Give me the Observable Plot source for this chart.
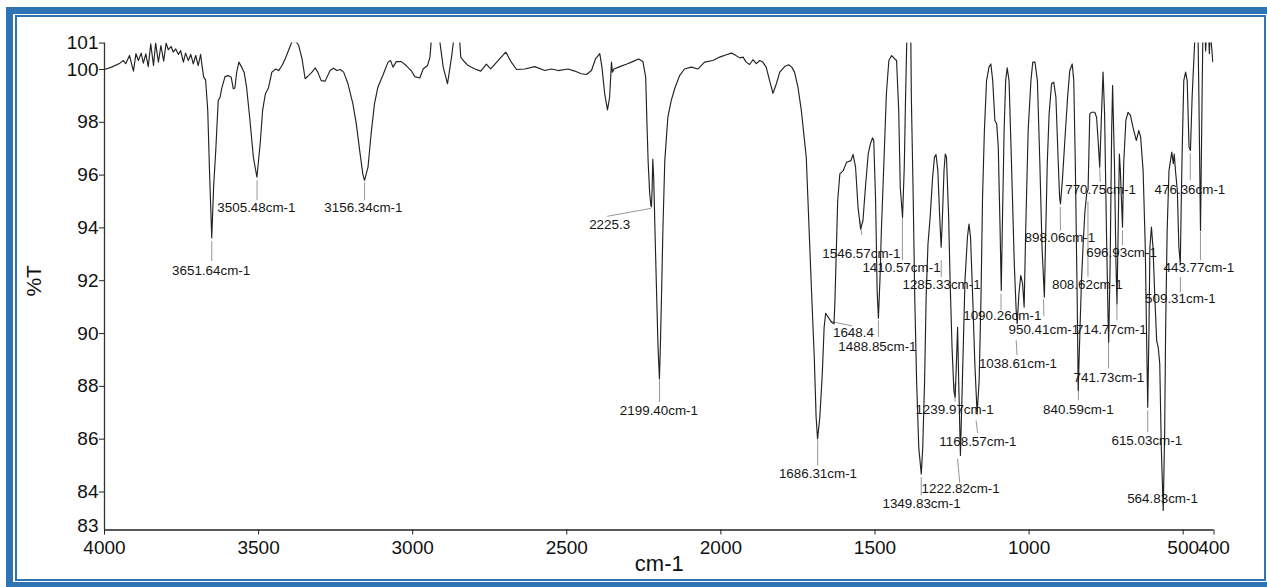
<!DOCTYPE html>
<html>
<head>
<meta charset="utf-8">
<script src="https://cdn.jsdelivr.net/npm/d3@7"></script>
<script src="https://cdn.jsdelivr.net/npm/@observablehq/plot@0.6"></script>
<style>
html, body { margin: 0; padding: 0; background: #fff; }
#wrap { position: relative; width: 1267px; height: 587px; overflow: hidden; background: #fff; }
#outer { position: absolute; left: 6px; top: 7px; width: 1270px; height: 582px; border: 7px solid #2e74b5; box-sizing: border-box; }
#inner { position: absolute; left: 15px; top: 15px; width: 1251px; height: 566px; border: 2px solid #2e74b5; box-sizing: border-box; }
#chart { position: absolute; left: 0; top: 0; }
</style>
</head>
<body>
<div id="wrap">
  <div id="outer"></div>
  <div id="inner"></div>
  <div id="chart"></div>
</div>
<script>
// Spectrum: wavenumber (cm-1) and transmittance (%T)
const wavenumber = [
  4000,3977,3950,3939,3931,3919,3906,3898,3890,3881,3874,3866,3858,3850,3841,3834,3825,3817,3808,3800,
  3793,3784,3777,3769,3760,3753,3744,3737,3728,3720,3712,3704,3696,3688,3683,3678,3672,3665,3659,3652,
  3646,3639,3631,3625,3620,3609,3598,3589,3582,3577,3571,3564,3555,3547,3539,3528,3517,3505.5,3495,3487,
  3478,3468,3457,3444,3435,3424,3414,3403,3392,3378,3370,3359,3349,3338,3327,3316,3308,3297,3284,3268,
  3257,3246,3235,3224,3210,3194,3183,3172,3162,3156.3,3145,3135,3124,3113,3097,3080,3072,3064,3053,3037,
  3021,3005,2993,2977,2966,2952,2944,2937,2917,2901,2887,2874,2863,2850,2844,2836,2820,2798,2779,2761,
  2747,2723,2698,2680,2663,2636,2604,2571,2550,2528,2496,2474,2453,2436,2420,2407,2393,2386,2377,2368,
  2361,2355,2352,2347,2328,2307,2290,2267,2253,2244,2240,2236,2231,2227,2225.3,2223,2221,2218,2213,2208,
  2204,2199.4,2196,2193,2188,2182,2172,2161,2150,2134,2118,2096,2074,2053,2026,2004,1982,1966,1955,1939,
  1928,1918,1907,1896,1885,1874,1864,1853,1842,1831,1820,1809,1793,1780,1770,1761,1750,1739,1723,1716,
  1706,1697,1691,1686.3,1679,1671,1665,1660,1652,1641,1633,1630,1627,1621,1614,1603,1592,1578,1571,1563,
  1555,1546.6,1539,1531,1522,1515,1508,1504,1498,1493,1488.9,1484,1479,1471,1463,1455,1446,1436,1430,1423,
  1418,1410.6,1405,1401,1396,1384,1382,1376,1371,1365,1358,1349.8,1345,1339,1334,1328,1321,1313,1307,1302,
  1296,1290,1285.3,1282,1276,1272,1268,1261,1256,1250,1244,1240,1236,1232,1228,1222.8,1215,1208,1200,1195,
  1190,1183,1176,1168.6,1162,1156,1151,1145,1138,1130,1124,1118,1111,1105,1100,1094,1090.3,1087,1081,1076,
  1071,1065,1057,1048,1042,1038.6,1033,1027,1021,1016,1011,1003,994,988,981,973,965,958,950.4,947,
  941,935,927,920,913,906,901,898.1,892,884,875,868,860,855,850,844,840.6,835,830,825,
  819,813,808.6,806,803,798,787,781,776,770.8,765,760,755,749,744,741.7,737,732,729,723,
  718,714.8,711,707,704,696.9,693,686,679,671,663,652,644,638,630,623,619,615,611,608,
  603,598,592,586,581,576,571,564.8,560,557,552,546,537,532,529,525,519,514,509.3,506,
  503,498,492,487,481,476.4,471,463,459,452,449,443.8,440,436,430,427,424,418,415,412,
  408,404
];
const transmittance = [
  100.0,100.09,100.24,100.34,100.22,100.53,99.94,100.6,100.34,100.62,100.24,100.59,100.11,100.97,100.15,101.0,100.28,100.91,100.32,101.0,
  100.75,100.87,100.66,100.78,100.57,100.72,100.28,100.62,100.34,100.57,100.21,100.53,100.15,100.57,100.09,99.71,99.61,98.45,96.05,93.62,
  95.54,96.93,98.83,98.95,99.27,99.73,99.77,99.71,99.27,99.3,99.9,100.28,100.09,99.9,99.33,98.07,96.68,95.92,97.18,98.45,
  99.08,99.3,99.9,100.02,99.96,100.15,100.4,100.72,101.05,101.05,100.91,100.4,99.65,99.77,99.9,100.06,99.9,99.58,99.56,99.96,
  100.05,99.96,100.0,99.9,99.46,98.7,97.94,96.93,96.05,95.8,96.3,97.56,98.7,99.33,99.77,100.28,100.34,100.09,100.3,100.3,
  100.15,99.96,99.73,99.68,100.02,100.15,100.47,101.5,101.5,100.09,99.46,100.47,101.5,101.5,100.47,100.34,100.15,100.02,99.94,100.2,
  100.02,100.34,100.66,100.28,100.0,100.02,100.11,99.96,100.02,99.96,100.02,99.94,99.84,99.81,99.96,100.4,100.6,100.09,99.08,98.47,
  98.95,100.28,99.9,100.02,100.11,100.2,100.28,100.4,100.3,99.71,98.0,96.5,95.3,94.85,94.8,95.5,96.6,95.9,93.5,91.25,
  89.5,88.28,89.7,91.25,94.0,96.55,98.2,98.83,99.27,99.77,100.02,100.09,100.02,100.28,100.34,100.47,100.56,100.62,100.56,100.44,
  100.47,100.28,100.19,100.37,100.22,100.34,100.28,100.09,99.58,99.1,99.46,99.9,100.11,100.18,100.09,99.9,99.33,98.45,96.68,94.6,
  91.63,89.1,86.83,86.01,86.83,88.47,90.24,90.77,90.62,90.43,90.37,91.2,92.5,95.04,96.05,96.17,96.49,96.55,96.78,96.3,
  94.78,93.96,94.28,95.54,96.8,97.18,97.41,97.31,95.04,91.6,90.58,92.0,94.0,96.5,99.08,100.34,100.53,100.4,100.34,98.45,
  95.54,94.4,96.3,98.83,101.5,101.5,98.95,95.16,91.38,88.22,85.69,84.68,85.69,88.22,91.38,93.4,94.41,95.92,96.68,96.78,
  96.17,94.41,93.27,94.15,96.17,96.8,96.68,94.41,91.88,89.48,87.84,87.59,88.8,90.24,88.0,85.38,88.85,92.01,93.65,94.15,
  93.65,91.38,88.85,86.95,88.22,91.38,95.16,97.69,99.58,100.09,100.21,99.58,98.07,97.94,97.06,93.9,91.63,93.9,97.69,99.58,
  100.06,99.58,96.43,92.64,90.9,90.37,91.5,92.2,91.88,91.0,93.9,97.69,99.58,100.28,100.28,99.58,96.43,93.27,91.38,93.27,
  96.43,98.32,99.46,99.52,98.95,96.68,95.16,94.91,95.8,97.31,98.95,99.96,100.21,99.58,96.43,91.38,87.84,90.11,92.0,93.27,
  94.6,95.3,95.45,96.8,98.32,98.38,98.38,98.19,97.31,96.3,98.32,99.9,98.32,93.9,90.75,89.67,92.64,97.69,99.39,96.43,
  92.64,91.12,93.9,96.8,96.2,94.03,96.43,98.07,98.38,98.26,97.82,97.31,97.69,97.44,96.17,93.27,90.11,87.21,90.11,93.27,
  94.03,93.27,91.38,89.73,89.48,88.85,85.69,83.3,86.33,90.11,93.9,96.17,96.87,96.43,96.8,96.17,95.42,93.27,92.64,95.16,
  97.06,99.58,99.9,99.58,97.06,96.93,98.95,100.97,101.5,101.5,98.95,93.9,97.69,101.5,101.5,100.7,101.5,101.5,100.6,101.5,
  100.9,100.3
];

// Axis ticks
const xTicks = [4000, 3500, 3000, 2500, 2000, 1500, 1000, 500, 400];
const yTickLabels = [83, 84, 86, 88, 90, 92, 94, 96, 98, 100, 101];
const yBottom = 82.56; // bottom edge of the axis, where the "83" label sits

// Peak annotations
const peakLabels = ["3651.64cm-1","3505.48cm-1","3156.34cm-1","2225.3","2199.40cm-1","1686.31cm-1","1648.4","1488.85cm-1",
  "1546.57cm-1","1410.57cm-1","1349.83cm-1","1285.33cm-1","1239.97cm-1","1168.57cm-1","1222.82cm-1","1090.26cm-1",
  "1038.61cm-1","950.41cm-1","714.77cm-1","898.06cm-1","770.75cm-1","696.93cm-1","808.62cm-1","741.73cm-1",
  "840.59cm-1","615.03cm-1","564.83cm-1","509.31cm-1","443.77cm-1","476.36cm-1"];
const labelWn = [3654,3507,3160,2361,2201,1685,1570,1492,1544,1414,1349,1284,1242,1166,1222,1087,
  1036,952,733,900,768,700,811,741,840,618,567,509,449,478];
const labelT = [92.37,94.76,94.76,94.13,87.06,84.71,90.02,89.49,93.03,92.48,83.54,91.86,87.1,85.91,84.13,90.66,
  88.86,90.13,90.13,93.62,95.46,93.05,91.86,88.31,87.1,85.93,83.73,91.31,92.48,95.46];

// Leader lines from peaks to labels
const leadX1 = [3652,3505,3156,2369,2199,1686,1644,1489,1549,1411,1350,1285,1241,1172,1232,1091,1042,953,715,899,771,697,809,742,840,615,509,444,477];
const leadT1 = [93.5,95.8,95.73,94.44,88.23,85.96,90.46,90.5,94.3,94.37,84.56,92.78,88.11,86.71,85.25,91.5,89.75,91.3,91.1,94.8,96.26,93.91,95.0,89.68,88.23,87.09,92.14,93.85,96.83];
const leadX2 = [3652,3505,3156,2227,2199,1686,1574,1489,1543,1411,1350,1285,1240,1167,1225,1091,1039,952,715,898,769,697,809,742,840,615,509,444,477];
const leadT2 = [92.75,95.05,95.05,94.74,87.41,85.0,90.29,89.87,93.74,92.78,83.87,92.14,87.41,86.23,84.35,90.88,89.18,90.65,90.5,93.9,95.74,93.34,92.15,88.68,87.47,86.27,91.57,92.78,95.81];

const spectrum = wavenumber.map((w, i) => ({wn: w, t: transmittance[i]}));
const labels = peakLabels.map((s, i) => ({text: s, wn: labelWn[i], t: labelT[i]}));
const leaders = leadX1.map((x, i) => ({x1: x, y1: leadT1[i], x2: leadX2[i], y2: leadT2[i]}));
const yTickPos = yTickLabels.map(v => v === 83 ? yBottom : v);
const yMainTicks = yTickPos.filter(v => v !== yBottom);

const font = "'Liberation Sans', Arial, Helvetica, sans-serif";

const chart = Plot.plot({
  width: 1267,
  height: 587,
  marginLeft: 104,
  marginRight: 53.5,
  marginTop: 42.6,
  marginBottom: 57.5,
  style: {fontFamily: font, color: "#111", background: "transparent", overflow: "visible"},
  x: {domain: [4000, 400]},
  y: {domain: [yBottom, 101]},
  marks: [
    Plot.axisX({ticks: xTicks, tickFormat: d => String(d), tickSize: 5, tickPadding: 5, fontSize: 19, label: null, stroke: "#222"}),
    Plot.axisY({ticks: yMainTicks, tickFormat: d => String(d), tickSize: 5, tickPadding: 1, fontSize: 19, label: null, stroke: "#222"}),
    Plot.axisY({ticks: [yBottom], tickFormat: () => "83", tickSize: 0, tickPadding: 6, dy: -4, fontSize: 19, label: null}),
    Plot.ruleX([4000], {stroke: "#333", strokeWidth: 1.3}),
    Plot.ruleY([yBottom], {stroke: "#222", strokeWidth: 1.5}),
    Plot.text(["%T"], {frameAnchor: "left", dx: -70, dy: 10, rotate: -90, fontSize: 21, fill: "#111"}),
    Plot.text(["cm-1"], {frameAnchor: "bottom", dy: 40.5, fontSize: 22, fill: "#111"}),
    Plot.link(leaders, {x1: "x1", y1: "y1", x2: "x2", y2: "y2", stroke: "#8a8a8a", strokeWidth: 0.9}),
    Plot.line(spectrum, {x: "wn", y: "t", stroke: "#222", strokeWidth: 1.15, clip: true}),
    Plot.text(labels, {x: "wn", y: "t", text: "text", fontSize: 13.4, fill: "#161616"})
  ]
});
document.getElementById("chart").appendChild(chart);
</script>
</body>
</html>
